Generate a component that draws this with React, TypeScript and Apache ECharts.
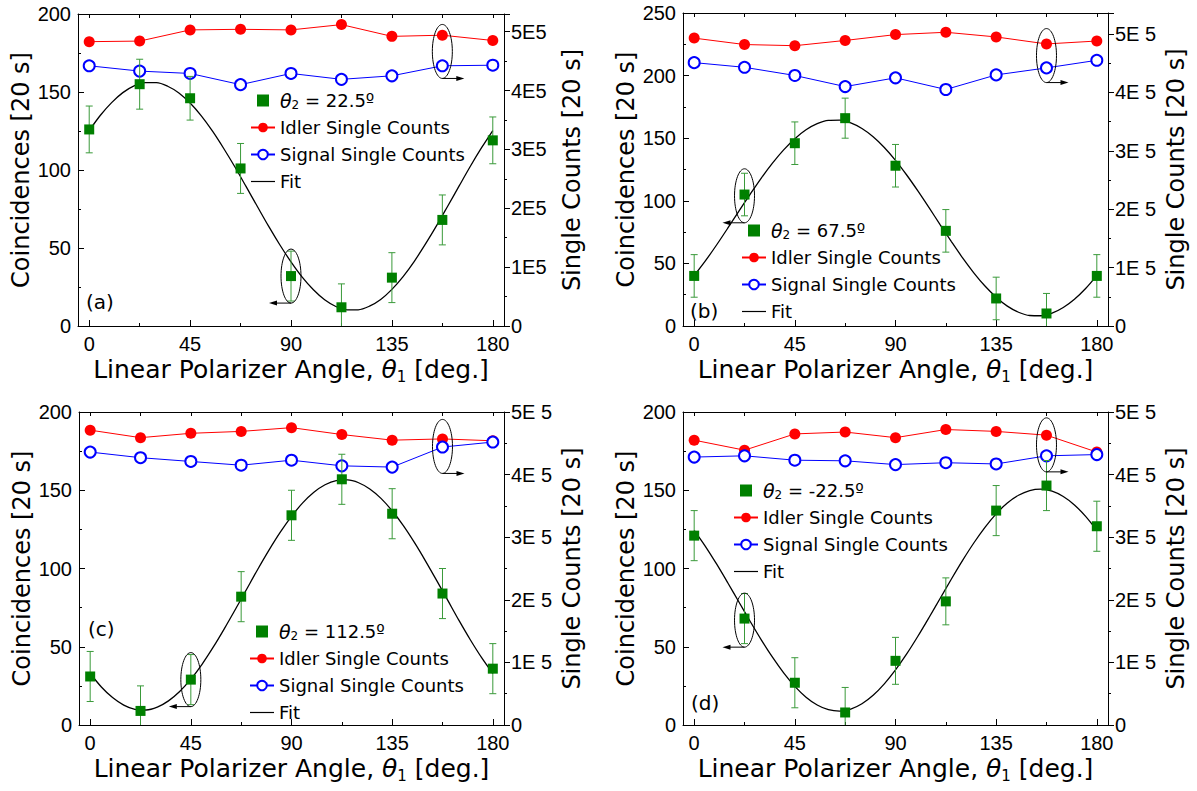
import React, { useEffect, useRef } from 'react';
import * as echarts from 'echarts';

// ---------- data ----------
const ANGLES = [0, 22.5, 45, 67.5, 90, 112.5, 135, 157.5, 180];
const FIT_ANGLES = [0, 5, 10, 15, 20, 25, 30, 35, 40, 45, 50, 55, 60, 65, 70, 75, 80, 85, 90, 95, 100, 105, 110, 115, 120, 125, 130, 135, 140, 145, 150, 155, 160, 165, 170, 175, 180];
const X_LABEL_TICKS = [0, 45, 90, 135, 180];
const X_MINOR_TICKS = [22.5, 67.5, 112.5, 157.5];
const X_ALL_TICKS = [0, 22.5, 45, 67.5, 90, 112.5, 135, 157.5, 180];

const THETA2 = ['22.5º', '67.5º', '112.5º', '-22.5º'];
const PANEL_LABELS = ['(a)', '(b)', '(c)', '(d)'];
const LEFT_MAX = [200, 250, 200, 200];
const RIGHT_MAX = [530000, 536000, 500000, 500000];
const RIGHT_SUFFIX = ['E5', 'E 5', 'E 5', 'E 5'];

// panel (a)
const coincA = [126, 155, 146, 101, 32, 12, 31, 68, 119];
const errA = [15, 16, 14, 16, 16, 15, 16, 16, 15];
const idlerA = [483000, 484000, 503000, 504000, 503000, 512000, 492000, 494000, 485000];
const signalA = [442000, 433000, 429000, 410000, 429000, 419000, 425000, 442000, 443000];
const fitA = [125.3, 135.1, 143.2, 149.6, 153.9, 156.0, 156.0, 153.7, 149.4, 142.9, 134.7, 124.9, 113.8, 101.9, 89.3, 76.6, 64.0, 52.1, 41.1, 31.3, 23.2, 16.8, 12.5, 10.4, 10.4, 12.7, 17.0, 23.5, 31.7, 41.5, 52.6, 64.5, 77.1, 89.8, 102.4, 114.3, 125.3];

// panel (b)
const coincB = [40, 105, 146, 166, 128, 76, 22, 10, 40];
const errB = [17, 17, 17, 16, 17, 17, 17, 16, 17];
const idlerB = [493000, 482000, 480000, 489000, 499000, 503000, 495000, 483000, 488000];
const signalB = [451000, 443000, 429000, 410000, 425000, 405000, 430000, 442000, 455000];
const fitB = [40.3, 52.0, 64.7, 78.1, 91.8, 105.2, 118.2, 130.1, 140.7, 149.6, 156.7, 161.6, 164.2, 164.4, 162.3, 157.8, 151.2, 142.6, 132.3, 120.6, 107.9, 94.5, 80.8, 67.4, 54.4, 42.5, 31.9, 23.0, 15.9, 11.0, 8.4, 8.2, 10.3, 14.8, 21.4, 30.0, 40.3];

// panel (c)
const coincC = [31, 9, 29, 82, 134, 157, 135, 84, 36];
const errC = [16, 16, 16, 16, 16, 16, 16, 16, 16];
const idlerC = [471000, 459000, 466000, 469000, 475000, 464000, 455000, 457000, 454000];
const signalC = [436000, 427000, 421000, 415000, 423000, 414000, 412000, 444000, 452000];
const fitC = [32.9, 24.3, 17.5, 12.7, 10.0, 9.6, 11.4, 15.4, 21.4, 29.3, 38.8, 49.7, 61.6, 74.1, 86.9, 99.7, 111.9, 123.2, 133.3, 141.9, 148.7, 153.5, 156.2, 156.6, 154.8, 150.8, 144.8, 136.9, 127.4, 116.5, 104.6, 92.1, 79.3, 66.5, 54.3, 43.0, 32.9];

// panel (d)
const coincD = [121, 68, 27, 8, 41, 79, 137, 153, 127];
const errD = [16, 16, 16, 16, 15, 15, 16, 16, 16];
const idlerD = [455000, 439000, 465000, 468000, 459000, 472000, 469000, 463000, 436000];
const signalD = [428000, 430000, 423000, 422000, 416000, 419000, 417000, 430000, 432000];
const fitD = [124.4, 114.2, 102.9, 90.9, 78.6, 66.3, 54.4, 43.3, 33.3, 24.7, 17.8, 12.8, 9.8, 8.9, 10.2, 13.6, 19.0, 26.3, 35.2, 45.4, 56.7, 68.7, 81.0, 93.3, 105.2, 116.3, 126.3, 134.9, 141.8, 146.8, 149.8, 150.7, 149.4, 146.0, 140.6, 133.3, 124.4];

const COINC = [coincA, coincB, coincC, coincD];
const ERR = [errA, errB, errC, errD];
const IDLER = [idlerA, idlerB, idlerC, idlerD];
const SIGNAL = [signalA, signalB, signalC, signalD];
const FIT = [fitA, fitB, fitC, fitD];

// annotation ellipses: [panel, angle, coincidence-axis value, arrow direction]
const ANNOTATIONS: [number, number, number, number][] = [
  [0, 157.5, 176, 1],
  [0, 90, 32, -1],
  [1, 157.5, 216, 1],
  [1, 22.5, 104, -1],
  [2, 157.5, 178, 1],
  [2, 45, 29, -1],
  [3, 157.5, 179, 1],
  [3, 22.5, 67, -1],
];

// ---------- layout / style ----------
const FONT = "'Liberation Sans', Arial, sans-serif";
const TFONT = "'DejaVu Sans', 'Liberation Sans', sans-serif";
const GRIDS = [
  { left: 78, top: 14, width: 426, height: 312 },
  { left: 683, top: 13, width: 425, height: 313 },
  { left: 79, top: 412, width: 425, height: 313 },
  { left: 683, top: 412, width: 425, height: 313 },
];
const LEGEND_POS = [
  { left: 250, top: 90 },
  { left: 741, top: 220 },
  { left: 249, top: 621 },
  { left: 733, top: 480 },
];
const LABEL_POS = [
  [86, 302],
  [690, 311],
  [88, 629],
  [691, 703],
];
const GREEN = '#008000';
const ERR_GREEN = '#3a9a3a';
const RED = '#ff0000';
const BLUE = '#0000ff';

function buildOption() {
  const grid: any[] = [];
  const xAxis: any[] = [];
  const yAxis: any[] = [];
  const series: any[] = [];
  const legend: any[] = [];

  for (let p = 0; p < 4; p++) {
    grid.push({ ...GRIDS[p], containLabel: false });
    const axisLine = { show: true, onZero: false, lineStyle: { color: '#000', width: 1 } };
    // main bottom x axis
    xAxis.push({
      type: 'value', gridIndex: p, position: 'bottom', min: -5, max: 185,
      axisLine,
      splitLine: { show: false },
      axisTick: { show: true, inside: true, length: 6, customValues: X_LABEL_TICKS, lineStyle: { color: '#000' } },
      axisLabel: { show: true, customValues: X_LABEL_TICKS, fontSize: 20, color: '#000', fontFamily: FONT, margin: 8 },
      name: 'Linear Polarizer Angle, {it|θ}{sub|1} [deg.]',
      nameLocation: 'middle', nameGap: 29,
      nameTextStyle: {
        fontSize: 25, color: '#000', fontFamily: TFONT,
        rich: {
          it: { fontSize: 25, fontStyle: 'italic', fontFamily: TFONT, color: '#000' },
          sub: { fontSize: 15, fontFamily: TFONT, color: '#000', padding: [14, 0, 0, 0] },
        },
      },
    });
    // minor bottom ticks
    xAxis.push({
      type: 'value', gridIndex: p, position: 'bottom', min: -5, max: 185,
      axisLine: { show: false, onZero: false },
      splitLine: { show: false },
      axisTick: { show: true, inside: true, length: 3, customValues: X_MINOR_TICKS, lineStyle: { color: '#000' } },
      axisLabel: { show: false },
    });
    // top frame
    xAxis.push({
      type: 'value', gridIndex: p, position: 'top', min: -5, max: 185,
      axisLine,
      splitLine: { show: false },
      axisTick: { show: true, inside: true, length: 4, customValues: X_ALL_TICKS, lineStyle: { color: '#000' } },
      axisLabel: { show: false },
    });
    // left axis
    yAxis.push({
      type: 'value', gridIndex: p, position: 'left', min: 0, max: LEFT_MAX[p], interval: 50,
      axisLine,
      splitLine: { show: false },
      axisTick: { show: true, inside: true, length: 6, lineStyle: { color: '#000' } },
      minorTick: { show: true, splitNumber: 2, length: 3, lineStyle: { color: '#000' } },
      axisLabel: { fontSize: 20, color: '#000', fontFamily: FONT, margin: 7 },
      name: 'Coincidences [20 s]', nameLocation: 'middle', nameRotate: 90, nameGap: 45,
      nameTextStyle: { fontSize: 24, color: '#000', fontFamily: TFONT },
    });
    // right axis
    const suffix = RIGHT_SUFFIX[p];
    yAxis.push({
      type: 'value', gridIndex: p, position: 'right', min: 0, max: RIGHT_MAX[p], interval: 100000,
      axisLine,
      splitLine: { show: false },
      axisTick: { show: true, inside: false, length: 6, lineStyle: { color: '#000' } },
      minorTick: { show: true, splitNumber: 2, length: 3, lineStyle: { color: '#000' } },
      axisLabel: {
        fontSize: 20, color: '#000', fontFamily: FONT, margin: 7,
        formatter: (v: number) => (v === 0 ? '0' : v % 100000 === 0 ? `${v / 100000}${suffix}` : ''),
      },
      name: 'Single Counts [20 s]', nameLocation: 'middle', nameRotate: 90, nameGap: 56,
      nameTextStyle: { fontSize: 24, color: '#000', fontFamily: TFONT },
    });

    const xi = p * 3;
    const yl = p * 2;
    const yr = p * 2 + 1;
    const thetaName = `θ2 = ${THETA2[p]}`;

    series.push({
      name: 'Idler Single Counts', type: 'line', xAxisIndex: xi, yAxisIndex: yr,
      data: ANGLES.map((a, i) => [a, IDLER[p][i]]),
      symbol: 'circle', symbolSize: 11,
      itemStyle: { color: RED },
      lineStyle: { color: RED, width: 1 },
      z: 3,
    });
    series.push({
      name: 'Signal Single Counts', type: 'line', xAxisIndex: xi, yAxisIndex: yr,
      data: ANGLES.map((a, i) => [a, SIGNAL[p][i]]),
      symbol: 'emptyCircle', symbolSize: 11,
      itemStyle: { color: BLUE, borderWidth: 1 },
      lineStyle: { color: BLUE, width: 1 },
      z: 3,
    });
    series.push({
      name: 'Fit', type: 'line', xAxisIndex: xi, yAxisIndex: yl,
      data: FIT_ANGLES.map((a, i) => [a, FIT[p][i]]),
      smooth: 0.3, symbol: 'none', showSymbol: false,
      lineStyle: { color: '#000', width: 1.3 },
      itemStyle: { color: '#000' },
      z: 4,
    });
    series.push({
      name: `err${p}`, type: 'custom', xAxisIndex: xi, yAxisIndex: yl, clip: true,
      data: ANGLES.map((a, i) => [a, COINC[p][i] - ERR[p][i], COINC[p][i] + ERR[p][i]]),
      encode: { x: 0, y: [1, 2] },
      renderItem: (params: any, api: any) => {
        const x = api.value(0);
        const lo = api.coord([x, api.value(1)]);
        const hi = api.coord([x, api.value(2)]);
        const w = 3.5;
        const style = { stroke: ERR_GREEN, lineWidth: 1 };
        return {
          type: 'group',
          children: [
            { type: 'line', shape: { x1: lo[0], y1: lo[1], x2: hi[0], y2: hi[1] }, style },
            { type: 'line', shape: { x1: lo[0] - w, y1: lo[1], x2: lo[0] + w, y2: lo[1] }, style },
            { type: 'line', shape: { x1: hi[0] - w, y1: hi[1], x2: hi[0] + w, y2: hi[1] }, style },
          ],
        };
      },
      z: 5,
    });
    series.push({
      name: thetaName, type: 'scatter', xAxisIndex: xi, yAxisIndex: yl,
      data: ANGLES.map((a, i) => [a, COINC[p][i]]),
      symbol: 'rect', symbolSize: 10,
      itemStyle: { color: GREEN, opacity: 1 },
      z: 6,
    });

    legend.push({
      orient: 'vertical', ...LEGEND_POS[p], padding: 0,
      itemWidth: 24, itemHeight: 12, itemGap: 6, selectedMode: false,
      data: [
        { name: thetaName, icon: 'path://M0 0H10V10H0Z' },
        'Idler Single Counts', 'Signal Single Counts',
        { name: 'Fit', icon: 'path://M0 0H24V1.2H0Z' },
      ],
      formatter: (name: string) => (name.startsWith('θ2') ? `{it|θ}{sub|2}${name.slice(2)}` : name),
      textStyle: {
        fontSize: 18, color: '#000', fontFamily: TFONT, lineHeight: 21,
        rich: {
          it: { fontSize: 19, fontStyle: 'italic', fontFamily: TFONT, color: '#000', lineHeight: 21 },
          sub: { fontSize: 12, fontFamily: TFONT, color: '#000', padding: [9, 0, 0, 0], lineHeight: 12 },
        },
      },
    });
  }

  return { animation: false, backgroundColor: '#fff', grid, xAxis, yAxis, series, legend };
}

export default function App() {
  const ref = useRef<HTMLDivElement>(null);
  useEffect(() => {
    if (!ref.current) return;
    const chart = echarts.init(ref.current, undefined, { renderer: 'svg' });
    chart.setOption(buildOption());

    const graphic: any[] = [];
    PANEL_LABELS.forEach((t, p) => {
      graphic.push({
        type: 'text', x: LABEL_POS[p][0], y: LABEL_POS[p][1], z: 10,
        style: { text: t, fontSize: 20, fontFamily: TFONT, fill: '#000', verticalAlign: 'middle' },
      });
    });
    ANNOTATIONS.forEach(([p, ang, val, dir]) => {
      const pt = chart.convertToPixel({ xAxisIndex: p * 3, yAxisIndex: p * 2 } as any, [ang, val]) as number[];
      const cx = pt[0];
      const cy = pt[1];
      const rx = 10;
      const ry = 27;
      graphic.push({
        type: 'ellipse', z: 10, shape: { cx, cy, rx, ry },
        style: { fill: 'none', stroke: '#000', lineWidth: 1 },
      });
      const by = cy + ry;
      const ex = cx + dir * 22;
      graphic.push({
        type: 'line', z: 10, shape: { x1: cx, y1: by, x2: ex - dir * 5, y2: by },
        style: { stroke: '#000', lineWidth: 1 },
      });
      graphic.push({
        type: 'polygon', z: 10,
        shape: { points: [[ex, by], [ex - dir * 8, by - 2.5], [ex - dir * 8, by + 2.5]] },
        style: { fill: '#000' },
      });
    });
    chart.setOption({ graphic });

    return () => chart.dispose();
  }, []);
  return (
    <div
      ref={ref}
      style={{ position: 'absolute', left: 0, top: 0, width: 1197, height: 791, background: '#fff' }}
    />
  );
}
